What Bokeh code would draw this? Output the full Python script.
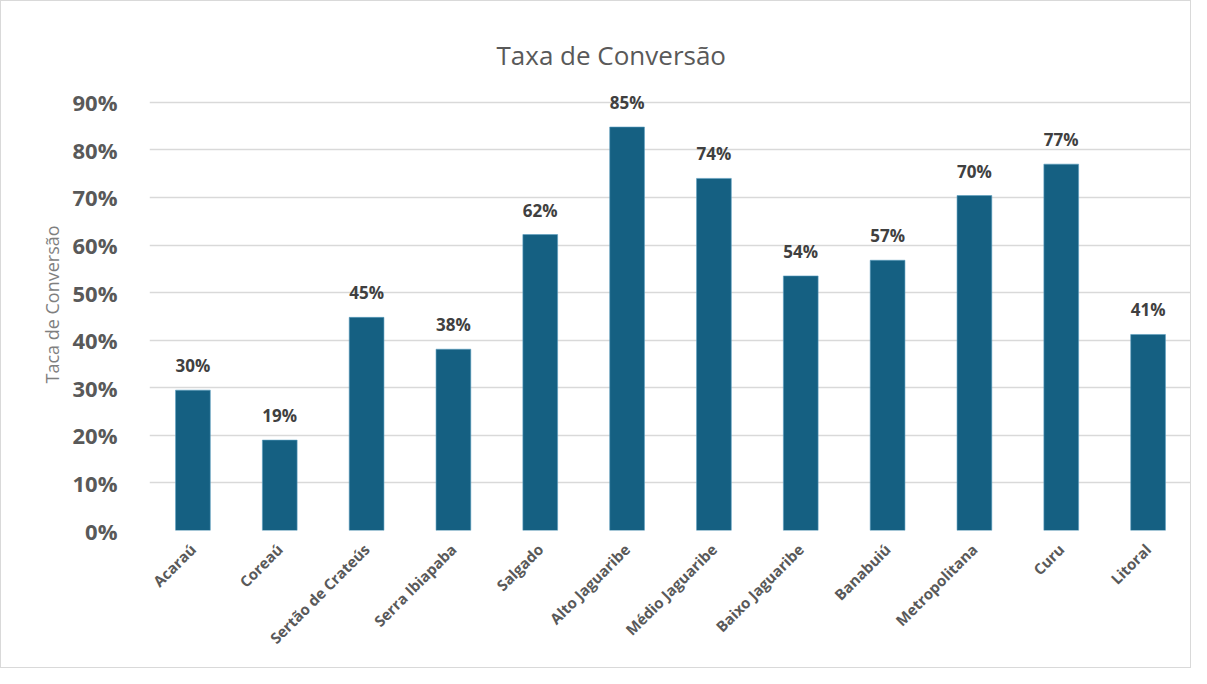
import math
from bokeh.plotting import figure
from bokeh.models import ColumnDataSource, Range1d, FixedTicker, NumeralTickFormatter, FactorRange
from bokeh.core.properties import value
from bokeh.embed import file_html
from bokeh.resources import INLINE

categories = ["Acaraú", "Coreaú", "Sertão de Crateús", "Serra Ibiapaba", "Salgado",
              "Alto Jaguaribe", "Médio Jaguaribe", "Baixo Jaguaribe", "Banabuiú",
              "Metropolitana", "Curu", "Litoral"]
rates = [0.295, 0.19, 0.448, 0.381, 0.622, 0.848, 0.740, 0.535, 0.568, 0.704, 0.770, 0.412]
y_ticks = [0.0, 0.1, 0.2, 0.3, 0.4, 0.5, 0.6, 0.7, 0.8, 0.9]
title_text = "Taxa de Conversão"
y_label = "Taca de Conversão"

labels = [f"{round(v * 100)}%" for v in rates]
src = ColumnDataSource(dict(cat=categories, rate=rates, lab=labels))

FONT = "Open Sans"
p = figure(width=1191, height=668, output_backend="svg", toolbar_location=None,
           x_range=FactorRange(*categories, range_padding=0), y_range=Range1d(0, 0.95))
p.min_border_left = 148
p.min_border_right = 1
p.min_border_top = 77
p.min_border_bottom = 139
p.outline_line_color = None
p.background_fill_color = "white"
p.border_fill_color = "white"
p.styles = {"border": "1px solid #d9d9d9", "box-sizing": "border-box"}

p.title.text = title_text
p.title.align = "left"
p.title.offset = 347
p.title.standoff = 12
p.title.text_font = FONT
p.title.text_font_size = "26px"
p.title.text_font_style = "normal"
p.title.text_color = "#595959"

p.vbar(x="cat", top="rate", width=0.4, source=src, fill_color="#156082",
       line_color="#5a9ec0", line_width=0.6)

p.text(x="cat", y="rate", text="lab", source=src, text_align="center",
       text_baseline="bottom", y_offset=-13, text_font=value(FONT),
       text_font_size="17px", text_font_style="bold", text_color="#404040")

p.yaxis.ticker = FixedTicker(ticks=y_ticks)
p.yaxis.formatter = NumeralTickFormatter(format="0%")
p.yaxis.axis_line_color = None
p.yaxis.major_tick_line_color = None
p.yaxis.minor_tick_line_color = None
p.yaxis.major_label_standoff = 26
p.yaxis.major_label_text_font = FONT
p.yaxis.major_label_text_font_size = "22px"
p.yaxis.major_label_text_font_style = "bold"
p.yaxis.major_label_text_color = "#595959"
p.yaxis.axis_label = y_label
p.yaxis.axis_label_text_font = FONT
p.yaxis.axis_label_text_font_size = "18px"
p.yaxis.axis_label_text_font_style = "normal"
p.yaxis.axis_label_text_color = "#7f7f7f"
p.yaxis.axis_label_standoff = 6

p.xaxis.axis_line_color = None
p.xaxis.major_tick_line_color = None
p.xaxis.minor_tick_line_color = None
p.xaxis.major_label_orientation = math.pi / 4
p.xaxis.major_label_standoff = 10
p.xaxis.major_label_text_font = FONT
p.xaxis.major_label_text_font_size = "15px"
p.xaxis.major_label_text_font_style = "bold"
p.xaxis.major_label_text_color = "#595959"

p.xgrid.grid_line_color = None
p.ygrid.ticker = FixedTicker(ticks=y_ticks)
p.ygrid.grid_line_color = "#d9d9d9"
p.ygrid.grid_line_width = 1.5

open("out.html", "w").write(file_html(p, INLINE))
